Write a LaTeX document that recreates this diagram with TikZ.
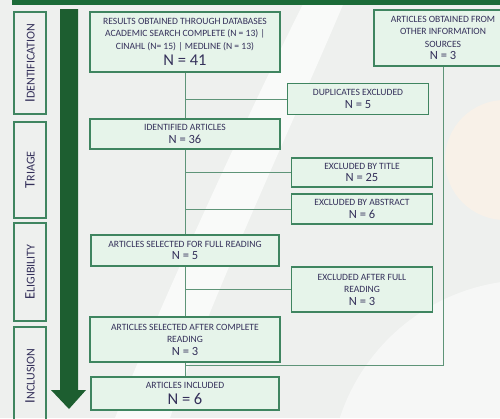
\documentclass[tikz,border=0pt]{standalone}
\usepackage{fontspec}
\setmainfont{Carlito}
\usepackage{tikz}
\usetikzlibrary{positioning, calc}

\definecolor{topgreen}{HTML}{1B6B38}
\definecolor{arrowgreen}{HTML}{1D5E30}
\definecolor{boxline}{HTML}{3F8560}
\definecolor{boxfill}{HTML}{E6F4EA}
\definecolor{linecol}{HTML}{5E9478}
\definecolor{txt}{HTML}{34305A}
\definecolor{bggray}{HTML}{EEF0EE}

\tikzset{
  box/.style={draw=boxline, line width=1.1pt, fill=boxfill, align=center,
    inner sep=1pt, text=txt, font=\fontsize{9.6}{12.5}\selectfont},
  stagebox/.style={draw=boxline, line width=1.1pt, rotate=90,
    minimum height=32pt, text=txt, inner sep=0pt},
  link/.style={draw=linecol, line width=1pt},
}
\newcommand{\bign}[1]{{\fontsize{16.5}{17}\selectfont N = #1}}
\newcommand{\midn}[1]{{\fontsize{12.5}{13}\selectfont N = #1}}
\newcommand{\stagelabel}[2]{{\fontsize{14.5}{15}\selectfont #1}{\fontsize{12}{13}\selectfont #2}}

\begin{document}
\begin{tikzpicture}[x=1pt,y=-1pt]
    \clip (0,0) rectangle (500,418);

    % Background
    \fill[bggray] (0,0) rectangle (500,418);
    \fill[white,opacity=0.7] (305,0) .. controls (230,150) and (150,330) .. (115,418)
      -- (170,418) .. controls (210,300) and (290,130) .. (345,0) -- cycle;
    \fill[orange!10,opacity=0.6] (505,160) circle (60);
    \fill[white,opacity=0.5] (530,480) circle (200);
    \fill[topgreen] (12,0) rectangle (500,5);

    % Stages
    \node[stagebox, minimum width=102pt] (ident-stage) at (30,63)
      {\stagelabel{I}{DENTIFICATION}};
    \node[stagebox, minimum width=96pt] (triage-stage) at (30,170)
      {\stagelabel{T}{RIAGE}};
    \node[stagebox, minimum width=98pt] (elig-stage) at (30,272)
      {\stagelabel{E}{LIGIBILITY}};
    \node[stagebox, minimum width=98pt] (incl-stage) at (30,376)
      {\stagelabel{I}{NCLUSION}};

    \fill[arrowgreen] (60,9) -- (78,9) -- (78,390) -- (86,390) -- (69,409)
      -- (51,390) -- (60,390) -- cycle;

    % Boxes
    \node[box, minimum width=190pt, minimum height=60pt] (db) at (185,42)
      {RESULTS OBTAINED THROUGH DATABASES\\
       ACADEMIC SEARCH COMPLETE (N = 13) |\\
       CINAHL (N= 15) | MEDLINE (N = 13)\\[4pt] \bign{41}};
    \node[box, minimum width=138pt, minimum height=56pt] (other) at (443,38)
      {ARTICLES OBTAINED FROM\\ OTHER INFORMATION\\ SOURCES\\[0pt] \midn{3}};
    \node[box, minimum width=141pt, minimum height=31pt] (dup) at (358,99)
      {DUPLICATES EXCLUDED\\[0pt] \midn{5}};
    \node[box, minimum width=190pt, minimum height=30pt] (ident) at (185,134)
      {IDENTIFIED ARTICLES\\[0pt] \midn{36}};
    \node[box, minimum width=141pt, minimum height=29pt] (title) at (362,172.5)
      {EXCLUDED BY TITLE\\[0pt] \midn{25}};
    \node[box, minimum width=141pt, minimum height=30pt] (abstr) at (362,209)
      {EXCLUDED BY ABSTRACT\\[0pt] \midn{6}};
    \node[box, minimum width=188pt, minimum height=31pt] (full) at (185,250.5)
      {ARTICLES SELECTED FOR FULL READING\\[0pt] \midn{5}};
    \node[box, minimum width=141pt, minimum height=45pt] (exfull) at (362,289.5)
      {EXCLUDED AFTER FULL\\ READING\\[0pt] \midn{3}};
    \node[box, minimum width=190pt, minimum height=45pt] (after) at (185,339.5)
      {ARTICLES SELECTED AFTER COMPLETE\\ READING\\[0pt] \midn{3}};
    \node[box, minimum width=188pt, minimum height=33pt] (incl) at (185,393.5)
      {ARTICLES INCLUDED\\[3pt] \bign{6}};

    % Links
    \coordinate (merge) at (185,365);
    \draw[link] (db.south) -- (ident.north);
    \draw[link] (db.south |- dup.west) -- (dup.west);
    \draw[link] (ident.south) -- (full.north);
    \draw[link] (ident.south |- title.west) -- (title.west);
    \draw[link] (ident.south |- abstr.west) -- (abstr.west);
    \draw[link] (full.south) -- (after.north);
    \draw[link] (full.south |- exfull.west) -- (exfull.west);
    \draw[link] (after.south) -- (incl.north);
    \draw[link] (other.south) |- (merge);
\end{tikzpicture}
\end{document}
